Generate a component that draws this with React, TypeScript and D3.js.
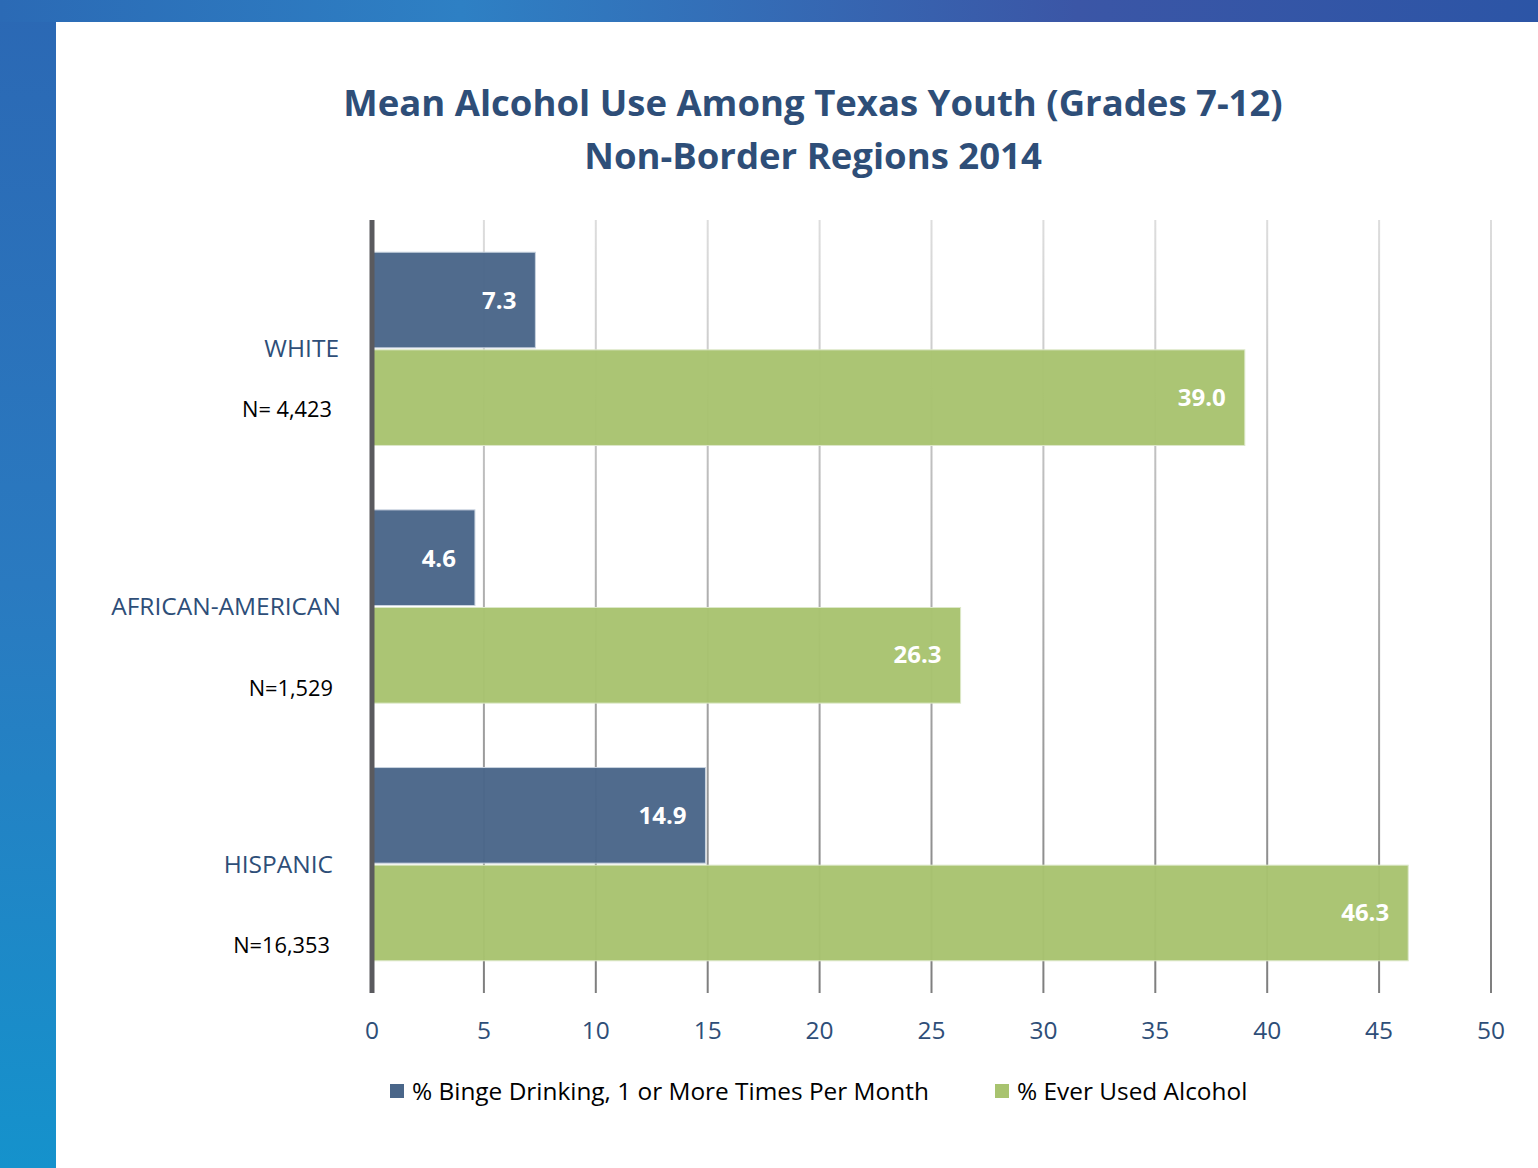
import React from "react";
import * as d3 from "d3";

const categories = ["WHITE", "AFRICAN-AMERICAN", "HISPANIC"];
const sampleSizes = ["N= 4,423", "N=1,529", "N=16,353"];
const bingeValues = [7.3, 4.6, 14.9];
const everValues = [39.0, 26.3, 46.3];
const xTicks = [0, 5, 10, 15, 20, 25, 30, 35, 40, 45, 50];
const seriesNames = ["% Binge Drinking, 1 or More Times Per Month", "% Ever Used Alcohol"];
const titleLines = ["Mean Alcohol Use Among Texas Youth (Grades 7-12)", "Non-Border Regions 2014"];

const W = 1538;
const H = 1168;
const FONT = "'Open Sans', 'Noto Sans', sans-serif";
const BLUE_TEXT = "#2E4E78";
const BINGE = "#4A6689";
const EVER = "#A8C36F";
const catLabelRight = [339, 341, 333];
const nLabelRight = [332, 333, 330];
const nLabelOffset = [61, 82, 81];

export default function App() {
  const x = d3.scaleLinear().domain([0, 50]).range([372, 1491]);
  const y = d3.scaleBand<string>().domain(categories).range([220, 993]).paddingInner(0.25).paddingOuter(0.125);
  const half = y.bandwidth() / 2;
  const rows = categories.map((c, i) => ({ c, i, y0: y(c) as number }));

  return (
    <svg width={W} height={H} style={{ display: "block", position: "absolute", left: 0, top: 0 }}>
      <defs>
        <linearGradient id="leftbg" x1="0" y1="0" x2="0" y2="1">
          <stop offset="0" stopColor="#2B68B4" />
          <stop offset="0.5" stopColor="#2A7AC0" />
          <stop offset="1" stopColor="#1592CC" />
        </linearGradient>
        <linearGradient id="topbg" x1="0" y1="0" x2="1" y2="0">
          <stop offset="0" stopColor="#2B6AB5" />
          <stop offset="0.3" stopColor="#2E80C4" />
          <stop offset="0.7" stopColor="#3B56A6" />
          <stop offset="1" stopColor="#2C55A6" />
        </linearGradient>
        <linearGradient id="grid" x1="0" y1="0" x2="0" y2="1">
          <stop offset="0" stopColor="#DDDDDD" />
          <stop offset="1" stopColor="#7E7E7E" />
        </linearGradient>
      </defs>
      <rect x={0} y={0} width={W} height={H} fill="url(#leftbg)" />
      <rect x={0} y={0} width={W} height={22} fill="url(#topbg)" />
      <rect x={56} y={22} width={W - 56} height={H - 22} fill="#FFFFFF" />

      {titleLines.map((t, i) => (
        <text key={t} x={813} y={116 + i * 53} textAnchor="middle" fontFamily={FONT} fontWeight={700}
          fontSize={36.5} fill={BLUE_TEXT}>{t}</text>
      ))}

      {xTicks.filter(t => t > 0).map(t => (
        <rect key={"g" + t} x={x(t) - 1} y={220} width={2} height={773} fill="url(#grid)" />
      ))}

      {rows.map(r => (
        <g key={r.c}>
          <rect x={x(0)} y={r.y0} width={x(bingeValues[r.i]) - x(0)} height={half - 1}
            fill={BINGE} fillOpacity={0.97} stroke="#C9D3DF" strokeWidth={1} />
          <rect x={x(0)} y={r.y0 + half + 1} width={x(everValues[r.i]) - x(0)} height={half - 1}
            fill={EVER} fillOpacity={0.97} stroke="#DCE8C8" strokeWidth={1} />
          <text x={x(bingeValues[r.i]) - 19} y={r.y0 + half / 2} dy="0.35em" textAnchor="end"
            fontFamily={FONT} fontWeight={700} fontSize={24} fill="#FFFFFF">{bingeValues[r.i].toFixed(1)}</text>
          <text x={x(everValues[r.i]) - 19} y={r.y0 + half * 1.5} dy="0.35em" textAnchor="end"
            fontFamily={FONT} fontWeight={700} fontSize={24} fill="#FFFFFF">{everValues[r.i].toFixed(1)}</text>
        </g>
      ))}

      <rect x={369.5} y={220} width={5} height={773} fill="#5A5A5E" />

      {rows.map(r => (
        <g key={"l" + r.c}>
          <text x={catLabelRight[r.i]} y={r.y0 + half} dy="0.35em" textAnchor="end"
            fontFamily={FONT} fontSize={24.5} fill={BLUE_TEXT}>{r.c}</text>
          <text x={nLabelRight[r.i]} y={r.y0 + half + nLabelOffset[r.i]} dy="0.35em" textAnchor="end"
            fontFamily={FONT} fontSize={21.8} fill="#000000">{sampleSizes[r.i]}</text>
        </g>
      ))}

      {xTicks.map(t => (
        <text key={"t" + t} x={x(t)} y={1030} dy="0.35em" textAnchor="middle" fontFamily={FONT}
          fontSize={24.5} fill={BLUE_TEXT}>{t}</text>
      ))}

      {seriesNames.map((s, i) => {
        const lx = i === 0 ? 390 : 995;
        return (
          <g key={s}>
            <rect x={lx} y={1084} width={14} height={14} fill={i === 0 ? BINGE : EVER} />
            <text x={lx + 22} y={1091} dy="0.35em" fontFamily={FONT} fontSize={24.4} fill="#000000">{s}</text>
          </g>
        );
      })}
    </svg>
  );
}
